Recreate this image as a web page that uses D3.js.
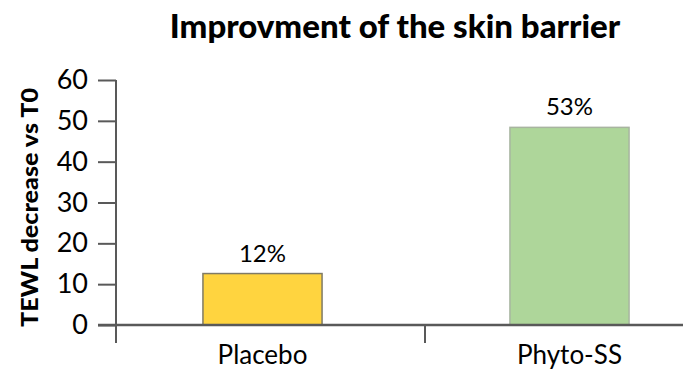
<!DOCTYPE html>
<html lang="en">
<head>
<meta charset="UTF-8">
<title>Improvment of the skin barrier</title>
<script src="https://d3js.org/d3.v7.min.js"></script>
<style>
    body, html { margin: 0; padding: 0; background: #ffffff; }
    svg text { fill: #000; }
</style>
</head>
<body>
<div id="chart"></div>
<script>
// data
var categories = ["Placebo", "Phyto-SS"];
var barValues = [12.6, 48.4];
var barLabels = ["12%", "53%"];
var barColors = ["#FFD43F", "#AED69A"];
var barStrokes = ["#7F7A66", "#A8B4A0"];
var yTicks = [0, 10, 20, 30, 40, 50, 60];

var width = 689, height = 369;

var svg = d3.select("#chart")
  .append("svg")
    .attr("width", width)
    .attr("height", height);

// scales
var y = d3.scaleLinear()
  .domain([0, 60])
  .range([325, 80]);

var x = d3.scaleBand()
  .domain(categories)
  .range([109, 723])
  .paddingInner(0.612)
  .paddingOuter(0.306);

var axisColor = "#595959";

// title
svg.append("text")
  .attr("x", 395)
  .attr("y", 38)
  .attr("text-anchor", "middle")
  .style("font-family", "Lato, sans-serif")
  .style("font-weight", 900)
  .style("font-size", "33px")
  .text("Improvment of the skin barrier");

// Y axis
var yAxis = svg.append("g")
  .attr("transform", "translate(116,0)")
  .call(d3.axisLeft(y).tickValues(yTicks).tickSize(18).tickPadding(10));
yAxis.select(".domain").remove();
yAxis.selectAll(".tick line").attr("stroke", axisColor).attr("stroke-width", 2);
yAxis.selectAll(".tick text")
  .style("font-family", "Lato, sans-serif")
  .style("font-size", "27px")
  .attr("fill", "#000");

// vertical axis line (runs a bit below zero like the original)
svg.append("line")
  .attr("x1", 116).attr("x2", 116)
  .attr("y1", y(60)).attr("y2", 343)
  .attr("stroke", axisColor).attr("stroke-width", 2);

// Y axis title
svg.append("text")
  .attr("transform", "translate(38," + ((y(0) + y(60)) / 2 + 5) + ") rotate(-90)")
  .attr("text-anchor", "middle")
  .attr("textLength", 239)
  .attr("lengthAdjust", "spacingAndGlyphs")
  .style("font-family", "Lato, sans-serif")
  .style("font-weight", 900)
  .style("font-size", "23px")
  .text("TEWL decrease vs T0");

// bars
svg.selectAll(".bar")
  .data(categories)
  .enter().append("rect")
    .attr("class", "bar")
    .attr("x", function(d) { return x(d); })
    .attr("y", function(d, i) { return y(barValues[i]); })
    .attr("width", x.bandwidth())
    .attr("height", function(d, i) { return y(0) - y(barValues[i]); })
    .attr("fill", function(d, i) { return barColors[i]; })
    .attr("stroke", function(d, i) { return barStrokes[i]; })
    .attr("stroke-width", 1.5);

// value labels
svg.selectAll(".val")
  .data(categories)
  .enter().append("text")
    .attr("class", "val")
    .attr("x", function(d) { return x(d) + x.bandwidth() / 2; })
    .attr("y", function(d, i) { return y(barValues[i]) - 12; })
    .attr("text-anchor", "middle")
    .style("font-family", "Lato, sans-serif")
    .style("font-size", "24px")
    .text(function(d, i) { return barLabels[i]; });

// X axis line
svg.append("line")
  .attr("x1", 98).attr("x2", 683)
  .attr("y1", y(0)).attr("y2", y(0))
  .attr("stroke", axisColor).attr("stroke-width", 2.5);

// category divider tick
svg.append("line")
  .attr("x1", 425).attr("x2", 425)
  .attr("y1", y(0)).attr("y2", 343)
  .attr("stroke", axisColor).attr("stroke-width", 2);

// category labels
svg.selectAll(".cat")
  .data(categories)
  .enter().append("text")
    .attr("class", "cat")
    .attr("x", function(d) { return x(d) + x.bandwidth() / 2; })
    .attr("y", 364)
    .attr("text-anchor", "middle")
    .style("font-family", "Lato, sans-serif")
    .style("font-size", "26px")
    .text(function(d) { return d; });
</script>
</body>
</html>
